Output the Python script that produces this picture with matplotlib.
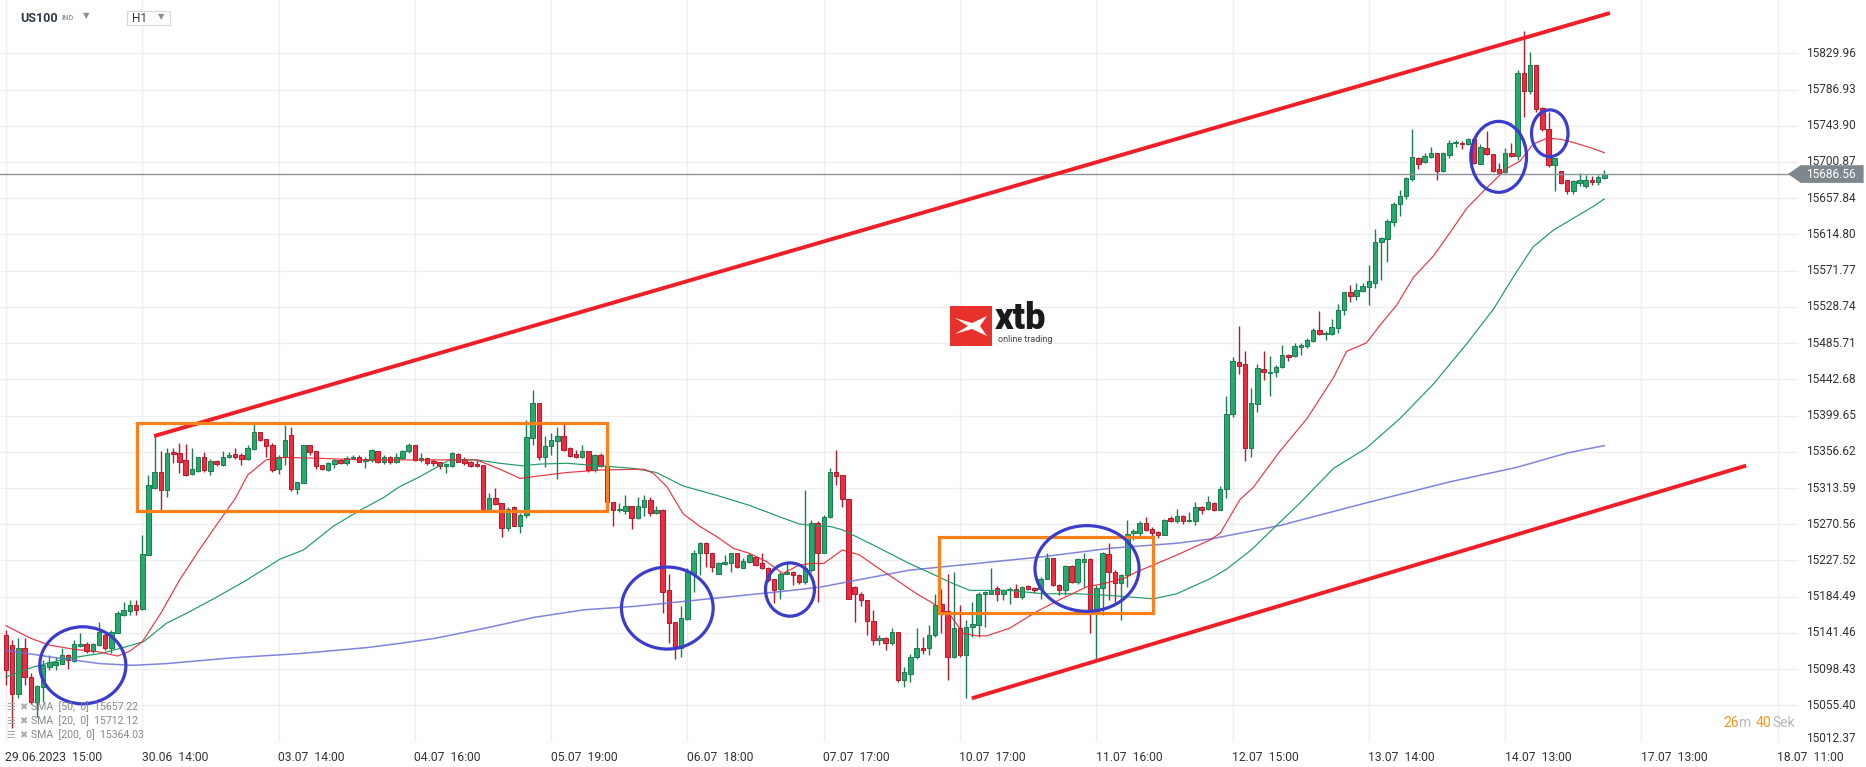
import matplotlib
matplotlib.use("Agg")
import matplotlib.pyplot as plt
from matplotlib.patches import Rectangle, Ellipse, Polygon

plt.rcParams['font.family'] = ['Roboto', 'DejaVu Sans']

W, H = 1866, 767

# hourly candles, US100, 29.06.2023 15:00 onwards
opens = [15139, 15127, 15069, 15123, 15089, 15060, 15077, 15101, 15103, 15105,
         15115, 15108, 15126, 15128, 15120, 15127, 15139, 15123, 15141, 15163,
         15167, 15175, 15170, 15234, 15314, 15333, 15311, 15356, 15355, 15347,
         15330, 15334, 15350, 15334, 15346, 15341, 15350, 15354, 15353, 15348,
         15360, 15380, 15372, 15365, 15336, 15351, 15377, 15312, 15319, 15365,
         15357, 15341, 15335, 15342, 15347, 15343, 15349, 15350, 15346, 15347,
         15358, 15344, 15351, 15345, 15349, 15357, 15365, 15347, 15349, 15346,
         15344, 15340, 15340, 15354, 15348, 15345, 15342, 15341, 15288, 15302,
         15296, 15266, 15291, 15269, 15281, 15373, 15414, 15350, 15364, 15370,
         15375, 15361, 15354, 15350, 15357, 15335, 15353, 15340, 15297, 15287,
         15286, 15292, 15278, 15291, 15299, 15284, 15288, 15192, 15155, 15123,
         15158, 15212, 15237, 15248, 15236, 15211, 15223, 15225, 15236, 15219,
         15226, 15232, 15224, 15219, 15205, 15194, 15212, 15214, 15210, 15202,
         15216, 15272, 15236, 15279, 15333, 15329, 15300, 15196, 15188, 15180,
         15156, 15133, 15135, 15129, 15142, 15085, 15093, 15113, 15124, 15123,
         15139, 15176, 15167, 15113, 15147, 15115, 15149, 15151, 15188, 15188,
         15195, 15188, 15192, 15194, 15184, 15197, 15195, 15194, 15206, 15230,
         15198, 15193, 15221, 15202, 15226, 15229, 15167, 15195, 15235, 15214,
         15201, 15210, 15260, 15260, 15272, 15265, 15261, 15258, 15278, 15274,
         15280, 15274, 15275, 15291, 15289, 15296, 15288, 15312, 15401, 15463,
         15461, 15361, 15413, 15455, 15450, 15452, 15457, 15472, 15470, 15481,
         15482, 15488, 15501, 15496, 15497, 15504, 15525, 15546, 15542, 15548,
         15552, 15557, 15606, 15609, 15630, 15651, 15660, 15681, 15706, 15701,
         15707, 15711, 15690, 15709, 15723, 15724, 15722, 15728, 15699, 15717,
         15710, 15692, 15689, 15711, 15708, 15807, 15785, 15816, 15765, 15740,
         15697, 15690, 15679, 15667, 15676, 15672, 15680, 15677, 15682]

highs = [15145, 15133, 15135, 15135, 15094, 15080, 15109, 15115, 15113, 15123,
         15117, 15133, 15141, 15131, 15130, 15154, 15141, 15145, 15167, 15178,
         15181, 15181, 15258, 15329, 15376, 15357, 15361, 15361, 15367, 15366,
         15361, 15351, 15356, 15348, 15347, 15357, 15356, 15361, 15355, 15365,
         15390, 15380, 15372, 15367, 15353, 15388, 15386, 15321, 15365, 15365,
         15357, 15341, 15345, 15348, 15348, 15352, 15353, 15353, 15350, 15360,
         15358, 15353, 15352, 15355, 15359, 15367, 15365, 15355, 15349, 15348,
         15345, 15343, 15356, 15355, 15350, 15346, 15347, 15341, 15308, 15314,
         15296, 15291, 15292, 15284, 15394, 15430, 15414, 15375, 15379, 15386,
         15390, 15362, 15359, 15365, 15357, 15354, 15355, 15342, 15297, 15296,
         15305, 15292, 15303, 15305, 15303, 15292, 15289, 15212, 15155, 15173,
         15218, 15240, 15250, 15250, 15236, 15226, 15234, 15237, 15236, 15230,
         15236, 15232, 15236, 15220, 15205, 15214, 15226, 15215, 15211, 15311,
         15276, 15275, 15281, 15337, 15359, 15329, 15300, 15197, 15190, 15181,
         15169, 15139, 15137, 15147, 15143, 15101, 15117, 15147, 15137, 15151,
         15188, 15194, 15212, 15214, 15175, 15157, 15178, 15190, 15191, 15218,
         15197, 15194, 15196, 15200, 15197, 15198, 15196, 15208, 15236, 15231,
         15199, 15222, 15222, 15231, 15237, 15231, 15198, 15238, 15248, 15216,
         15212, 15276, 15265, 15274, 15279, 15267, 15262, 15277, 15280, 15289,
         15281, 15285, 15297, 15292, 15304, 15297, 15316, 15423, 15469, 15506,
         15476, 15433, 15461, 15476, 15471, 15460, 15484, 15473, 15486, 15486,
         15492, 15504, 15524, 15500, 15514, 15532, 15547, 15555, 15557, 15557,
         15578, 15621, 15612, 15633, 15653, 15668, 15683, 15740, 15707, 15711,
         15719, 15712, 15713, 15727, 15727, 15726, 15729, 15729, 15722, 15738,
         15710, 15700, 15718, 15724, 15810, 15856, 15831, 15816, 15766, 15760,
         15706, 15690, 15679, 15680, 15688, 15686, 15684, 15686, 15691]

lows = [15080, 15028, 15064, 15080, 15057, 15042, 15060, 15098, 15098, 15104,
        15099, 15107, 15125, 15118, 15118, 15126, 15121, 15118, 15141, 15161,
        15163, 15163, 15169, 15234, 15312, 15287, 15303, 15343, 15332, 15328,
        15329, 15333, 15333, 15329, 15340, 15340, 15349, 15348, 15341, 15347,
        15359, 15370, 15350, 15333, 15330, 15341, 15310, 15307, 15319, 15353,
        15336, 15335, 15334, 15337, 15342, 15341, 15348, 15344, 15337, 15345,
        15343, 15342, 15342, 15343, 15348, 15355, 15346, 15345, 15341, 15340,
        15336, 15331, 15339, 15344, 15341, 15339, 15339, 15287, 15287, 15293,
        15255, 15262, 15269, 15260, 15278, 15365, 15347, 15338, 15353, 15324,
        15357, 15350, 15349, 15349, 15333, 15333, 15339, 15296, 15268, 15285,
        15283, 15265, 15277, 15280, 15280, 15283, 15165, 15129, 15111, 15113,
        15157, 15190, 15210, 15220, 15214, 15211, 15222, 15214, 15218, 15218,
        15224, 15221, 15217, 15202, 15177, 15182, 15211, 15198, 15200, 15200,
        15214, 15178, 15236, 15278, 15317, 15291, 15182, 15154, 15173, 15139,
        15127, 15127, 15121, 15127, 15083, 15077, 15083, 15110, 15117, 15115,
        15137, 15141, 15085, 15112, 15113, 15064, 15137, 15137, 15149, 15188,
        15179, 15180, 15176, 15184, 15182, 15192, 15189, 15182, 15205, 15197,
        15186, 15186, 15201, 15200, 15196, 15141, 15111, 15163, 15181, 15178,
        15157, 15196, 15252, 15254, 15262, 15257, 15254, 15258, 15273, 15272,
        15271, 15273, 15270, 15283, 15288, 15286, 15287, 15302, 15398, 15449,
        15346, 15351, 15404, 15442, 15423, 15445, 15456, 15465, 15469, 15472,
        15480, 15487, 15495, 15489, 15495, 15498, 15519, 15535, 15537, 15546,
        15531, 15551, 15561, 15582, 15625, 15637, 15657, 15678, 15693, 15700,
        15706, 15679, 15689, 15706, 15719, 15716, 15721, 15699, 15698, 15709,
        15689, 15687, 15688, 15707, 15703, 15754, 15782, 15760, 15738, 15695,
        15667, 15675, 15663, 15663, 15672, 15670, 15674, 15674, 15681]

closes = [15097, 15069, 15123, 15089, 15060, 15078, 15103, 15107, 15107, 15115,
          15109, 15128, 15128, 15120, 15128, 15143, 15123, 15142, 15165, 15169,
          15175, 15169, 15235, 15317, 15333, 15311, 15355, 15354, 15345, 15329,
          15336, 15350, 15335, 15346, 15342, 15351, 15353, 15351, 15348, 15361,
          15380, 15371, 15363, 15335, 15351, 15371, 15312, 15321, 15365, 15356,
          15340, 15336, 15343, 15347, 15343, 15349, 15350, 15345, 15348, 15359,
          15344, 15351, 15344, 15350, 15358, 15365, 15347, 15349, 15343, 15343,
          15340, 15342, 15355, 15345, 15343, 15340, 15340, 15288, 15302, 15295,
          15266, 15289, 15269, 15282, 15374, 15414, 15350, 15363, 15371, 15375,
          15359, 15352, 15350, 15357, 15335, 15353, 15340, 15297, 15287, 15289,
          15292, 15278, 15292, 15299, 15284, 15288, 15190, 15153, 15123, 15159,
          15214, 15237, 15248, 15236, 15220, 15224, 15226, 15236, 15220, 15227,
          15234, 15222, 15218, 15204, 15193, 15212, 15214, 15210, 15202, 15218,
          15272, 15237, 15279, 15333, 15328, 15300, 15182, 15188, 15180, 15156,
          15133, 15135, 15129, 15142, 15086, 15095, 15113, 15124, 15121, 15139,
          15175, 15167, 15113, 15147, 15115, 15149, 15152, 15188, 15190, 15193,
          15188, 15192, 15194, 15184, 15196, 15194, 15193, 15206, 15230, 15198,
          15193, 15221, 15202, 15229, 15229, 15167, 15195, 15236, 15214, 15201,
          15210, 15259, 15263, 15272, 15264, 15260, 15258, 15276, 15274, 15280,
          15274, 15276, 15291, 15288, 15297, 15288, 15313, 15402, 15464, 15459,
          15361, 15415, 15456, 15451, 15452, 15457, 15472, 15469, 15482, 15484,
          15489, 15501, 15496, 15498, 15505, 15525, 15546, 15542, 15549, 15553,
          15559, 15606, 15610, 15631, 15651, 15661, 15682, 15707, 15699, 15708,
          15712, 15690, 15711, 15724, 15725, 15722, 15728, 15700, 15719, 15710,
          15690, 15688, 15711, 15708, 15806, 15785, 15816, 15764, 15740, 15697,
          15706, 15676, 15667, 15678, 15679, 15680, 15677, 15683, 15686.56]

# moving averages (candle position, value)
sma20_x = [0, 4, 7, 11, 15, 18, 20, 22, 25, 28, 31, 34, 37, 39, 42, 45, 50, 58, 66, 76,
           80, 83, 85, 90.5, 96, 103, 104.5, 106.7, 109.3, 112, 114.7, 117.4, 120, 122.8,
           125.4, 128, 130, 132, 135, 137.8, 140.5, 143.8, 147, 150, 152.4, 154.5, 156.7,
           158.3, 162, 166.4, 170.1, 174.4, 177.1, 180.4, 182.5, 185.8, 189, 194.4, 196,
           199.2, 201.3, 205.6, 210, 214.3, 216.4, 219.6, 221.8, 224.5, 227.2, 230.4, 233.1,
           235.8, 239, 242.2, 244.4, 246.5, 248.7, 250.9, 253, 255.7, 258]
sma20_y = [15150, 15135, 15127, 15122, 15119, 15114, 15120, 15131, 15165, 15204, 15238,
           15270, 15301, 15329, 15347, 15350, 15349, 15347, 15347, 15347,
           15335, 15325, 15327, 15332, 15335, 15336, 15331, 15315, 15283, 15268, 15256,
           15242, 15236, 15226, 15212, 15222, 15224, 15224, 15240, 15234, 15220, 15204,
           15188, 15175, 15163, 15141, 15138, 15138, 15147, 15167, 15181, 15196, 15200,
           15206, 15214, 15224, 15234, 15252, 15260, 15300, 15314, 15357, 15396, 15445,
           15476, 15486, 15507, 15531, 15564, 15589, 15617, 15646, 15670, 15693, 15702,
           15722, 15729, 15728, 15724, 15718, 15712]

sma50_x = [0, 4.4, 9.8, 15.2, 18.4, 22.2, 25.9, 29.2, 33.5, 38.8, 44.2, 48, 52.8, 57.1,
           60.9, 63.5, 66.8, 71.6, 76, 79.7, 83.4, 86.1, 90.5, 95.8, 101.2, 105, 109.3,
           114.7, 120, 125.4, 128, 131.4, 133, 135, 140.5, 145.8, 150, 152.9, 155.6, 162,
           167.4, 172.8, 178.2, 185.2, 189, 194.4, 197, 201, 204.5, 208.9, 214.3, 219.6,
           225, 230.4, 235.8, 240.1, 243.8, 246.5, 249.8, 253, 256.2, 258]
sma50_y = [15089, 15101, 15111, 15117, 15123, 15131, 15153, 15165, 15182, 15204, 15229,
           15240, 15268, 15287, 15302, 15315, 15327, 15347, 15347, 15343, 15340, 15342,
           15343, 15340, 15337, 15332, 15316, 15305, 15293, 15278, 15271, 15268, 15268,
           15264, 15244, 15224, 15210, 15200, 15192, 15192, 15188, 15188, 15186, 15182,
           15188, 15206, 15217, 15240, 15265, 15296, 15337, 15361, 15396, 15437, 15485,
           15526, 15570, 15600, 15620, 15634, 15648, 15657]

sma200_x = [0, 7.1, 15.2, 20.5, 25.9, 36.7, 47.5, 58.2, 63.5, 69.2, 77.3, 85.3, 93.4,
            101.4, 109.5, 117.5, 125.6, 131.5, 145.8, 156.7, 167.4, 178.2, 189, 194.4,
            205.6, 219.6, 233.1, 243.8, 251.9, 258]
sma200_y = [15121, 15113, 15105, 15103, 15105, 15112, 15117, 15124, 15129, 15135, 15147,
            15160, 15169, 15173, 15179, 15185, 15191, 15196, 15216, 15224, 15232, 15242,
            15248, 15253, 15269, 15296, 15321, 15338, 15355, 15364]

sma_labels = ["SMA  [50,  0]  15657.22", "SMA  [20,  0]  15712.12", "SMA  [200,  0]  15364.03"]

# drawings on the chart
upper_line = [(23.9, 15375.3), (258.9, 15877.8)]
lower_line = [(155.9, 15063.8), (280.9, 15340.2)]
boxes = [(21.1, 15286.3, 96.97, 15391.2), (150.6, 15164.7, 185.2, 15255.7)]
circles = [(12.4, 15103, 13.9, 91.5), (106.75, 15171, 14.8, 97.4), (126.55, 15193, 7.9, 63.3),
           (174.5, 15218, 16.8, 101.8), (240.95, 15707, 9.0, 84.3), (249.2, 15735, 5.9, 55.5)]

y_ticks = [15012.37, 15055.40, 15098.43, 15141.46, 15184.49, 15227.52, 15270.56, 15313.59,
           15356.62, 15399.65, 15442.68, 15485.71, 15528.74, 15571.77, 15614.80, 15657.84,
           15700.87, 15743.90, 15786.93, 15829.96]
x_labels = ["29.06.2023  15:00", "30.06  14:00", "03.07  14:00", "04.07  16:00", "05.07  19:00",
            "06.07  18:00", "07.07  17:00", "10.07  17:00", "11.07  16:00", "12.07  15:00",
            "13.07  14:00", "14.07  13:00", "17.07  13:00", "18.07  11:00"]
bars_per_label = 22

GREEN, GREEN_EDGE = '#26a96c', '#1b7d4f'
RED, RED_EDGE = '#ee2b3f', '#b5192b'


def fx(px):
    return px / W


def fy(py):
    return 1 - py / H


def draw_candles(ax):
    for i in range(len(closes)):
        o, h, l, c = opens[i], highs[i], lows[i], closes[i]
        up = c >= o
        face = GREEN if up else RED
        edge = GREEN_EDGE if up else RED_EDGE
        ax.vlines(i, l, h, color=edge, lw=1.0, zorder=3)
        body = max(abs(c - o), 0.9)
        ax.add_patch(Rectangle((i - 0.36, min(o, c)), 0.72, body, facecolor=face,
                               edgecolor=edge, lw=0.7, zorder=4))


def main():
    fig = plt.figure(figsize=(W / 100, H / 100), dpi=100)
    fig.patch.set_facecolor('white')
    ax = fig.add_axes([0, 1 - 742 / H, 1798 / W, 742 / H])
    ax.set_xlim(-0.97, 289.27)
    ax.set_ylim(15011.9, 15893.3)
    for s in ax.spines.values():
        s.set_visible(False)
    ax.set_xticks([])
    ax.set_yticks([])

    # grid
    for v in y_ticks:
        ax.axhline(v, color='#efefef', lw=1, zorder=0)
    for k in range(len(x_labels)):
        ax.axvline(k * bars_per_label, color='#efefef', lw=1, zorder=0)

    # y labels
    ytr = ax.get_yaxis_transform()
    for v in y_ticks:
        yy = v if v > 15050 else 15016
        ax.text(1.0045, yy, f"{v:.2f}", transform=ytr, ha='left', va='center',
                fontsize=8.6, color='#333333', clip_on=False)

    # x labels
    xtr = ax.get_xaxis_transform()
    for k, lab in enumerate(x_labels):
        ax.text(k * bars_per_label - 0.1, -0.012, lab, transform=xtr, ha='left', va='top',
                fontsize=8.7, color='#333333', clip_on=False)

    draw_candles(ax)

    ax.plot(sma200_x, sma200_y, color='#6a6fd6', lw=1.1, alpha=0.85, zorder=5)
    ax.plot(sma50_x, sma50_y, color='#1f9a66', lw=0.85, zorder=5)
    ax.plot(sma20_x, sma20_y, color='#e8202e', lw=0.85, alpha=0.9, zorder=5)

    # last price line + tag
    last = closes[-1]
    ax.axhline(last, color='#8c9398', lw=1, zorder=6)
    half = 10.5
    tag = Polygon([(0.9945, last), (1.0015, last + half), (1.0365, last + half),
                   (1.0365, last - half), (1.0015, last - half)], closed=True,
                  transform=ytr, facecolor='#7e878d', edgecolor='none', clip_on=False, zorder=7)
    ax.add_patch(tag)
    ax.text(1.0045, last, f"{last:.2f}", transform=ytr, ha='left', va='center',
            fontsize=8.6, color='white', clip_on=False, zorder=8)

    # trend channel
    for line in (upper_line, lower_line):
        ax.plot([line[0][0], line[1][0]], [line[0][1], line[1][1]], color='#f01e26',
                lw=2.8, solid_capstyle='butt', zorder=9)

    for x0, y0, x1, y1 in boxes:
        ax.add_patch(Rectangle((x0, y0), x1 - x0, y1 - y0, fill=False, edgecolor='#ff7f1a',
                               lw=2.3, zorder=9))

    for cx, cy, w, h in circles:
        ax.add_patch(Ellipse((cx, cy), w, h, fill=False, edgecolor='#3a3ccc', lw=2.3, zorder=9))

    # header
    fig.text(fx(20), fy(18), "US100", fontsize=9, fontweight='bold', color='#2f3a44',
             va='center', ha='left')
    fig.text(fx(61), fy(18), "IND", fontsize=5.5, fontweight='bold', color='#9aa0a6',
             va='center', ha='left')
    fig.text(fx(83), fy(16), "\u25bc", fontsize=6, color='#8a9096', va='center', ha='left',
             family='DejaVu Sans')
    fig.add_artist(Rectangle((fx(127), fy(25)), fx(43), 14 / H, transform=fig.transFigure,
                             facecolor='white', edgecolor='#d5d8db', lw=0.8))
    fig.text(fx(132), fy(19), "H1", fontsize=8.5, color='#2f3a44', va='center', ha='left')
    fig.text(fx(158), fy(16.5), "\u25bc", fontsize=6, color='#8a9096', va='center', ha='left',
             family='DejaVu Sans')

    # logo
    fig.add_artist(Rectangle((fx(950), fy(346)), fx(42), 40 / H, transform=fig.transFigure,
                             facecolor='#e8312a', edgecolor='none'))
    mark = [(955, 318), (968, 326), (955, 334), (972, 329), (987, 336), (980, 326),
            (987, 316), (972, 323)]
    fig.add_artist(Polygon([(fx(a), fy(b)) for a, b in mark], closed=True,
                           transform=fig.transFigure, facecolor='white', edgecolor='none'))
    fig.text(fx(995), fy(319), "xtb", fontsize=26, fontweight='heavy', color='#1a1a1a',
             va='center', ha='left')
    fig.text(fx(998), fy(340), "online trading", fontsize=6.5, color='#444444',
             va='center', ha='left')

    # indicator legend
    for k, lab in enumerate(sma_labels):
        yy = fy(707 + 14 * k)
        fig.text(fx(6), yy, "\u2630", fontsize=7, color='#aaaaaa', va='center', ha='left',
                 family='DejaVu Sans')
        fig.text(fx(19), yy, "\u2716", fontsize=7, color='#aaaaaa', va='center', ha='left',
                 family='DejaVu Sans')
        fig.text(fx(31), yy, lab, fontsize=7.6, color='#888888', va='center', ha='left')

    # candle timer
    fig.text(fx(1723), fy(723), "26", fontsize=10, color='#f7931e', va='center', ha='left')
    fig.text(fx(1739), fy(723), "m", fontsize=10, color='#b5b9bd', va='center', ha='left')
    fig.text(fx(1756), fy(723), "40", fontsize=10, color='#f7931e', va='center', ha='left')
    fig.text(fx(1772), fy(723), "Sek", fontsize=10, color='#b5b9bd', va='center', ha='left')

    fig.savefig("out.png", dpi=100, facecolor='white')


if __name__ == "__main__":
    main()
